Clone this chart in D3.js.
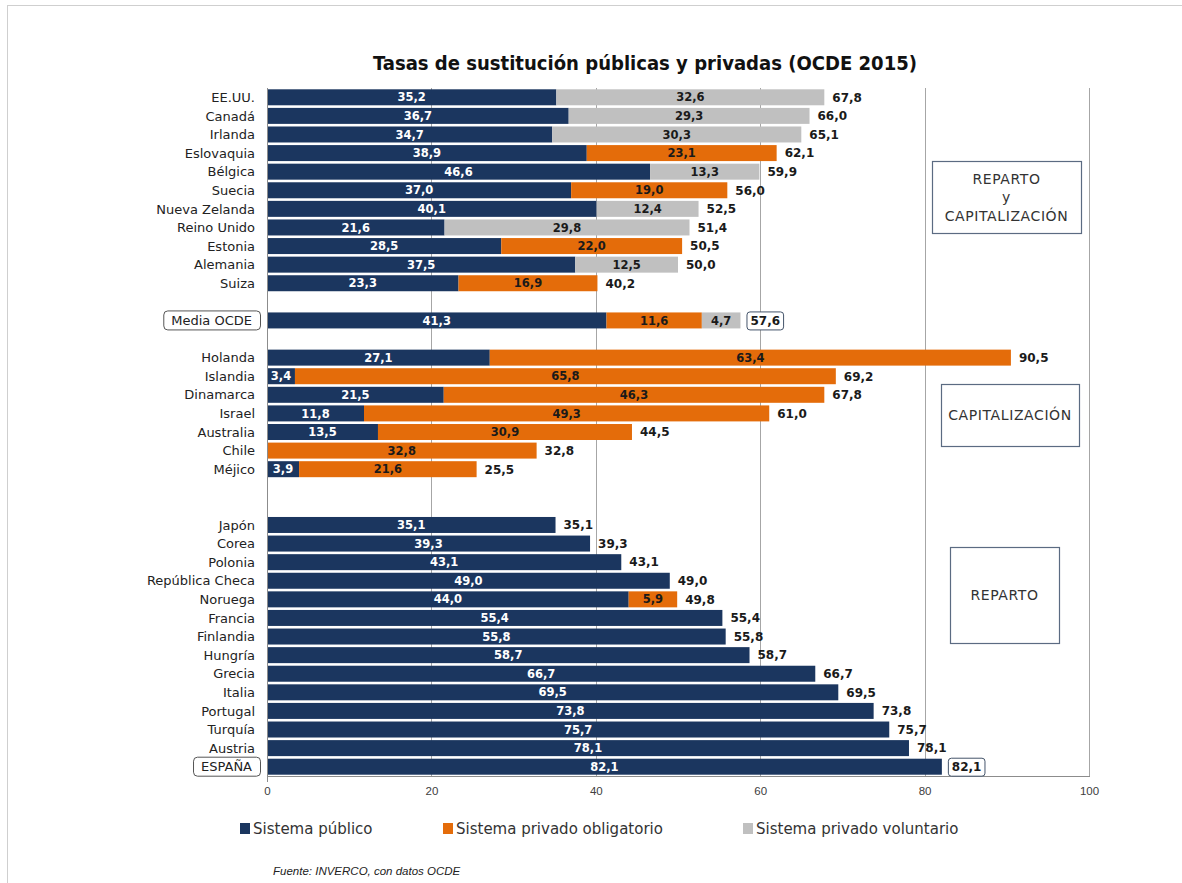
<!DOCTYPE html>
<html>
<head>
<meta charset="utf-8">
<script src="https://cdn.jsdelivr.net/npm/d3@7"></script>
<style>
  body { margin: 0; background: #fff; }
  svg { display: block; }
</style>
</head>
<body>
<div id="chart"></div>
<script>
// Rows of the chart, top to bottom ("" = empty spacer row)
const countries = [
    "EE.UU.", "Canadá", "Irlanda", "Eslovaquia", "Bélgica", "Suecia", "Nueva Zelanda",
    "Reino Unido", "Estonia", "Alemania", "Suiza", "",
    "Media OCDE", "",
    "Holanda", "Islandia", "Dinamarca", "Israel", "Australia", "Chile", "Méjico", "", "",
    "Japón", "Corea", "Polonia", "República Checa", "Noruega", "Francia", "Finlandia",
    "Hungría", "Grecia", "Italia", "Portugal", "Turquía", "Austria", "ESPAÑA"
];
const publico = [
    35.2, 36.7, 34.7, 38.9, 46.6, 37.0, 40.1, 21.6, 28.5, 37.5, 23.3, 0,
    41.3, 0,
    27.1, 3.4, 21.5, 11.8, 13.5, 0, 3.9, 0, 0,
    35.1, 39.3, 43.1, 49.0, 44.0, 55.4, 55.8, 58.7, 66.7, 69.5, 73.8, 75.7, 78.1, 82.1
];
const obligatorio = [
    0, 0, 0, 23.1, 0, 19.0, 0, 0, 22.0, 0, 16.9, 0,
    11.6, 0,
    63.4, 65.8, 46.3, 49.3, 30.9, 32.8, 21.6, 0, 0,
    0, 0, 0, 0, 5.9, 0, 0, 0, 0, 0, 0, 0, 0, 0
];
const voluntario = [
    32.6, 29.3, 30.3, 0, 13.3, 0, 12.4, 29.8, 0, 12.5, 0, 0,
    4.7, 0,
    0, 0, 0, 0, 0, 0, 0, 0, 0,
    0, 0, 0, 0, 0, 0, 0, 0, 0, 0, 0, 0, 0, 0
];
const totales = [
    67.8, 66.0, 65.1, 62.1, 59.9, 56.0, 52.5, 51.4, 50.5, 50.0, 40.2, null,
    57.6, null,
    90.5, 69.2, 67.8, 61.0, 44.5, 32.8, 25.5, null, null,
    35.1, 39.3, 43.1, 49.0, 49.8, 55.4, 55.8, 58.7, 66.7, 69.5, 73.8, 75.7, 78.1, 82.1
];
const boxedRows = ["Media OCDE", "ESPAÑA"];
const seriesNames = ["Sistema público", "Sistema privado obligatorio", "Sistema privado voluntario"];
const seriesKeys = ["publico", "obligatorio", "voluntario"];
const xTicks = [0, 20, 40, 60, 80, 100];
const groupBoxes = [
    { lines: ["REPARTO", "y", "CAPITALIZACIÓN"], x0: 932, x1: 1081, y0: 161, y1: 233 },
    { lines: ["CAPITALIZACIÓN"], x0: 941, x1: 1079, y0: 384, y1: 446 },
    { lines: ["REPARTO"], x0: 950, x1: 1059, y0: 547, y1: 643 }
];

const colors = { publico: "#1b365f", obligatorio: "#e46c0a", voluntario: "#c0c0c0" };
const W = 1182, H = 883;
const fmt = v => d3.format(".1f")(v).replace(".", ",");

const table = countries.map((c, i) => ({
    idx: i, name: c,
    publico: publico[i], obligatorio: obligatorio[i], voluntario: voluntario[i],
    total: totales[i]
}));

const svg = d3.select("#chart").append("svg")
    .attr("width", W)
    .attr("height", H);

// page frame
svg.append("line").attr("x1", 7).attr("x2", W).attr("y1", 5.5).attr("y2", 5.5)
    .attr("stroke", "#cfcfcf");
svg.append("line").attr("x1", 7.5).attr("x2", 7.5).attr("y1", 5).attr("y2", H)
    .attr("stroke", "#cfcfcf");

// title
svg.append("text")
    .attr("x", 645)
    .attr("y", 70)
    .attr("text-anchor", "middle")
    .attr("textLength", 544)
    .attr("lengthAdjust", "spacingAndGlyphs")
    .style("font-family", "'DejaVu Sans Condensed', 'DejaVu Sans', sans-serif")
    .style("font-weight", "bold")
    .style("font-size", "19px")
    .style("fill", "#111")
    .text("Tasas de sustitución públicas y privadas (OCDE 2015)");

const x = d3.scaleLinear().domain([0, 100]).range([267, 1089]);
const y = d3.scaleBand()
    .domain(d3.range(countries.length))
    .range([88, 776])
    .paddingInner(0.14)
    .paddingOuter(0.07);

// grid lines
svg.append("g").selectAll("line")
    .data(xTicks.slice(1))
    .enter().append("line")
    .attr("x1", d => Math.round(x(d)) + 0.5)
    .attr("x2", d => Math.round(x(d)) + 0.5)
    .attr("y1", 88)
    .attr("y2", 776)
    .attr("stroke", "#a6a6a6")
    .attr("stroke-width", 1);

// stacked bars
const stack = d3.stack().keys(seriesKeys);
const layers = stack(table);

const layerG = svg.append("g").selectAll("g")
    .data(layers)
    .enter().append("g")
    .attr("fill", d => colors[d.key]);

layerG.selectAll("rect")
    .data(d => d.filter(s => s[1] - s[0] > 0))
    .enter().append("rect")
    .attr("x", d => x(d[0]))
    .attr("y", d => y(d.data.idx))
    .attr("width", d => x(d[1]) - x(d[0]))
    .attr("height", y.bandwidth());

// segment labels
layerG.selectAll("text")
    .data(d => d.filter(s => s[1] - s[0] > 0).map(s => ({ s: s, key: d.key })))
    .enter().append("text")
    .attr("x", d => (x(d.s[0]) + x(d.s[1])) / 2)
    .attr("y", d => y(d.s.data.idx) + y.bandwidth() / 2)
    .attr("dy", "0.36em")
    .attr("text-anchor", "middle")
    .style("font-family", "'DejaVu Sans', sans-serif")
    .style("font-weight", "bold")
    .style("font-size", "11.5px")
    .style("fill", d => d.key === "publico" ? "#fff" : "#1a1a1a")
    .text(d => fmt(d.s[1] - d.s[0]));

// axes lines
svg.append("line")
    .attr("x1", x(0) + 0.5).attr("x2", x(0) + 0.5)
    .attr("y1", 88).attr("y2", 782)
    .attr("stroke", "#8c8c8c");
svg.append("line")
    .attr("x1", x(0)).attr("x2", x(100) + 1)
    .attr("y1", 776.5).attr("y2", 776.5)
    .attr("stroke", "#8c8c8c");

const xAxis = svg.append("g")
    .attr("transform", "translate(0, 776)")
    .call(d3.axisBottom(x).tickValues(xTicks).tickSize(0).tickPadding(11));
xAxis.select(".domain").remove();
xAxis.selectAll("text")
    .style("font-family", "'Liberation Sans Narrow', 'Liberation Sans', sans-serif")
    .style("font-size", "11.5px")
    .style("fill", "#404040");

// totals
const totG = svg.append("g");
const rowsWithTotal = table.filter(d => d.total !== null);
rowsWithTotal.forEach(d => {
    const end = x(d.publico + d.obligatorio + d.voluntario);
    const boxed = boxedRows.includes(d.name);
    const tx = end + (boxed ? 10 : 8);
    const t = totG.append("text")
        .attr("x", tx)
        .attr("y", y(d.idx) + y.bandwidth() / 2)
        .attr("dy", "0.36em")
        .style("font-family", "'DejaVu Sans', sans-serif")
        .style("font-weight", "bold")
        .style("font-size", "12px")
        .style("fill", "#1a1a1a")
        .text(fmt(d.total));
    if (boxed) {
        const bb = t.node().getBBox();
        totG.insert("rect", "text")
            .attr("x", bb.x - 3.5)
            .attr("y", y(d.idx) - 0.5)
            .attr("width", bb.width + 7)
            .attr("height", y.bandwidth() + 2)
            .attr("rx", 3)
            .attr("fill", "#fff")
            .attr("stroke", "#44546a")
            .attr("stroke-width", 1);
    }
});

// category labels
const labG = svg.append("g");
table.filter(d => d.name !== "").forEach(d => {
    const boxed = boxedRows.includes(d.name);
    const cy = y(d.idx) + y.bandwidth() / 2;
    const t = labG.append("text")
        .attr("x", boxed ? 0 : 255)
        .attr("y", cy)
        .attr("dy", "0.36em")
        .attr("text-anchor", boxed ? "middle" : "end")
        .style("font-family", "'DejaVu Sans', sans-serif")
        .style("font-size", "13px")
        .style("fill", "#222")
        .text(d.name);
    if (boxed) {
        const w = t.node().getComputedTextLength();
        const bw = w + 16;
        const bx = 260 - bw;
        t.attr("x", bx + bw / 2);
        labG.insert("rect", "text")
            .attr("x", bx + 0.5)
            .attr("y", cy - 9.5)
            .attr("width", bw)
            .attr("height", 19)
            .attr("rx", 4)
            .attr("fill", "#fff")
            .attr("stroke", "#555")
            .attr("stroke-width", 1);
    }
});

// group boxes on the right
groupBoxes.forEach(b => {
    svg.append("rect")
        .attr("x", b.x0 + 0.5)
        .attr("y", b.y0 + 0.5)
        .attr("width", b.x1 - b.x0)
        .attr("height", b.y1 - b.y0)
        .attr("fill", "#fff")
        .attr("stroke", "#5b6b82")
        .attr("stroke-width", 1.2);
    const cy = (b.y0 + b.y1) / 2;
    const lh = 18.5;
    b.lines.forEach((ln, i) => {
        svg.append("text")
            .attr("x", (b.x0 + b.x1) / 2)
            .attr("y", cy + (i - (b.lines.length - 1) / 2) * lh)
            .attr("dy", "0.36em")
            .attr("text-anchor", "middle")
            .style("font-family", "'DejaVu Sans', sans-serif")
            .style("font-size", "14px")
            .style("letter-spacing", "0.6px")
            .style("fill", "#333")
            .text(ln);
    });
});

// legend
const legendX = [240, 443, 743];
const legend = svg.append("g");
seriesKeys.forEach((k, i) => {
    legend.append("rect")
        .attr("x", legendX[i])
        .attr("y", 823)
        .attr("width", 10)
        .attr("height", 11)
        .attr("fill", colors[k]);
    legend.append("text")
        .attr("x", legendX[i] + 13)
        .attr("y", 829)
        .attr("dy", "0.36em")
        .style("font-family", "'DejaVu Sans', sans-serif")
        .style("font-size", "15px")
        .style("fill", "#333")
        .text(seriesNames[i]);
});

// source
svg.append("text")
    .attr("x", 273)
    .attr("y", 875)
    .style("font-family", "'Liberation Sans Narrow', 'Liberation Sans', sans-serif")
    .style("font-style", "italic")
    .style("font-size", "11.5px")
    .style("fill", "#222")
    .text("Fuente: INVERCO, con datos OCDE");
</script>
</body>
</html>
